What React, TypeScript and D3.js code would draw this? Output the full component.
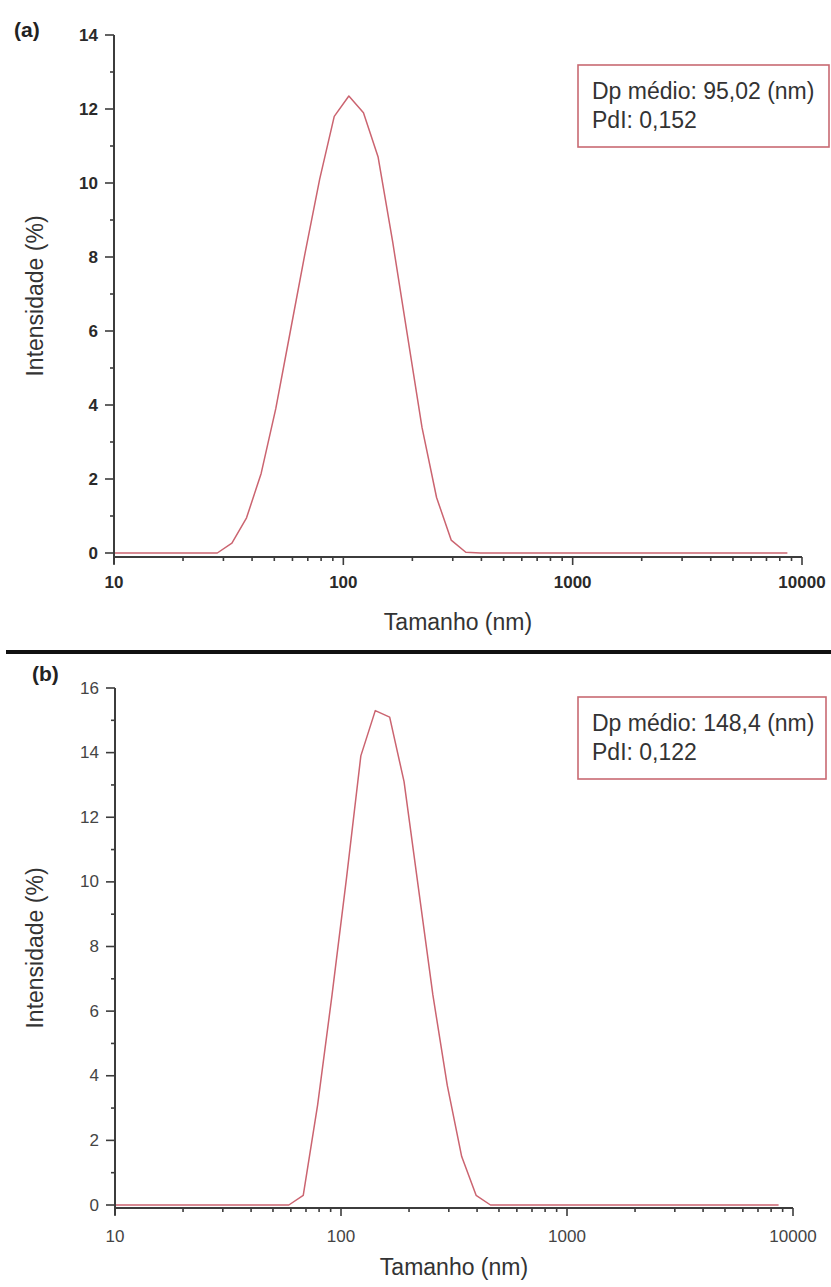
import React from "react";
import * as d3 from "d3";

// Size classes (nm) of the DLS intensity distribution
const sizeBins = [
  10.1, 11.7, 13.54, 15.69, 18.17, 21.04, 24.36, 28.21, 32.67, 37.84, 43.82, 50.75,
  58.77, 68.06, 78.82, 91.28, 105.7, 122.4, 141.8, 164.2, 190.1, 220.2, 255.0, 295.3,
  342.0, 396.1, 458.7, 531.2, 615.1, 712.4, 825.0, 955.4, 1106, 1281, 1484, 1718,
  1990, 2305, 2669, 3091, 3580, 4145, 4801, 5560, 6439, 7456, 8635,
];

// Intensity (%) per size class, sample (a)
const intensityA = [
  0, 0, 0, 0, 0, 0, 0, 0, 0.27, 0.95, 2.15, 3.9,
  6.0, 8.1, 10.1, 11.8, 12.35, 11.9, 10.7, 8.4, 5.9, 3.4, 1.5, 0.35,
  0.02, 0, 0, 0, 0, 0, 0, 0, 0, 0, 0, 0,
  0, 0, 0, 0, 0, 0, 0, 0, 0, 0, 0,
];

// Intensity (%) per size class, sample (b)
const intensityB = [
  0, 0, 0, 0, 0, 0, 0, 0, 0, 0, 0, 0,
  0, 0.3, 3.1, 6.5, 10.1, 13.9, 15.3, 15.1, 13.1, 9.8, 6.5, 3.7,
  1.5, 0.3, 0, 0, 0, 0, 0, 0, 0, 0, 0, 0,
  0, 0, 0, 0, 0, 0, 0, 0, 0, 0, 0,
];

const xTickLabels = ["10", "100", "1000", "10000"];
const legendA = ["Dp médio: 95,02 (nm)", "PdI: 0,152"];
const legendB = ["Dp médio: 148,4 (nm)", "PdI: 0,122"];

const AXIS = "#3c3c3c";
const CURVE = "#cb6470";
const FONT = "Arial, 'Liberation Sans', sans-serif";

type PanelProps = {
  tag: string;
  values: number[];
  yMax: number;
  x0: number;
  x1: number;
  yTop: number;
  yBottom: number;
  yZero: number;
  boldTicks: boolean;
  legend: string[];
  box: { x: number; y: number; w: number; h: number };
  tagPos: { x: number; y: number };
  xLabelY: number;
  yTitleX: number;
  xTitleY: number;
};

function Panel(p: PanelProps) {
  const x = d3.scaleLog().domain([10, 10000]).range([p.x0, p.x1]);
  // zero sits a little above the horizontal axis line
  const unit = (p.yZero - p.yTop) / p.yMax;
  const yMin = -(p.yBottom - p.yZero) / unit;
  const y = d3.scaleLinear().domain([yMin, p.yMax]).range([p.yBottom, p.yTop]);

  const pts = sizeBins.map((s, i) => [s, p.values[i]] as [number, number]);
  const line = d3
    .line<[number, number]>()
    .x((d) => x(d[0]))
    .y((d) => y(d[1]));

  const xMinor = x.ticks().filter((t) => Math.abs(Math.log10(t) - Math.round(Math.log10(t))) > 1e-6);
  const yMajor = d3.range(0, p.yMax + 0.001, 2);
  const yMinor = d3.range(1, p.yMax, 2);
  const weight = p.boldTicks ? 700 : 400;
  const tickColor = p.boldTicks ? "#2a2a2a" : "#444";
  const midX = (p.x0 + p.x1) / 2;
  const midY = (p.yTop + p.yBottom) / 2;

  return (
    <g>
      <text x={p.tagPos.x} y={p.tagPos.y} fontFamily={FONT} fontWeight={700} fontSize={21} fill="#222">
        {p.tag}
      </text>

      {/* curve */}
      <path d={line(pts) ?? ""} fill="none" stroke={CURVE} strokeWidth={1.5} strokeLinejoin="round" />

      {/* y axis */}
      <line x1={p.x0} x2={p.x0} y1={p.yTop} y2={p.yBottom + 7} stroke={AXIS} strokeWidth={2} />
      {yMajor.map((v) => (
        <g key={"ym" + v}>
          <line x1={p.x0 - 9} x2={p.x0} y1={y(v)} y2={y(v)} stroke={AXIS} strokeWidth={1.6} />
          <text
            x={p.x0 - 16}
            y={y(v)}
            textAnchor="end"
            dominantBaseline="central"
            fontFamily={FONT}
            fontWeight={weight}
            fontSize={17}
            fill={tickColor}
          >
            {v}
          </text>
        </g>
      ))}
      {yMinor.map((v) => (
        <line key={"yn" + v} x1={p.x0 - 4} x2={p.x0} y1={y(v)} y2={y(v)} stroke={AXIS} strokeWidth={1.6} />
      ))}

      {/* x axis */}
      <line x1={p.x0} x2={p.x1} y1={p.yBottom} y2={p.yBottom} stroke={AXIS} strokeWidth={2} />
      {xTickLabels.map((lab) => {
        const v = +lab;
        return (
          <g key={"xm" + lab}>
            <line x1={x(v)} x2={x(v)} y1={p.yBottom} y2={p.yBottom + 8} stroke={AXIS} strokeWidth={1.6} />
            <text
              x={x(v)}
              y={p.xLabelY}
              textAnchor="middle"
              fontFamily={FONT}
              fontWeight={weight}
              fontSize={17}
              fill={tickColor}
            >
              {lab}
            </text>
          </g>
        );
      })}
      {xMinor.map((v) => (
        <line key={"xn" + v} x1={x(v)} x2={x(v)} y1={p.yBottom} y2={p.yBottom + 4} stroke={AXIS} strokeWidth={1.6} />
      ))}

      {/* axis titles */}
      <text x={midX} y={p.xTitleY} textAnchor="middle" fontFamily={FONT} fontSize={23} fill="#333">
        Tamanho (nm)
      </text>
      <text
        transform={`translate(${p.yTitleX},${midY}) rotate(-90)`}
        textAnchor="middle"
        dominantBaseline="central"
        fontFamily={FONT}
        fontSize={23}
        fill="#333"
      >
        Intensidade (%)
      </text>

      {/* annotation box */}
      <rect x={p.box.x} y={p.box.y} width={p.box.w} height={p.box.h} fill="#fff" stroke="#c86a72" strokeWidth={1.6} />
      {p.legend.map((t, i) => (
        <text key={t} x={p.box.x + 14} y={p.box.y + 34 + i * 29} fontFamily={FONT} fontSize={23} fill="#333">
          {t}
        </text>
      ))}
    </g>
  );
}

export default function App() {
  return (
    <div style={{ position: "absolute", left: 0, top: 0 }}>
      <svg width={831} height={1287} style={{ display: "block", background: "#fff" }}>
        <Panel
          tag="(a)"
          values={intensityA}
          yMax={14}
          x0={114}
          x1={802}
          yTop={35}
          yBottom={557}
          yZero={553}
          boldTicks={true}
          legend={legendA}
          box={{ x: 578, y: 65, w: 251, h: 82 }}
          tagPos={{ x: 14, y: 37 }}
          xLabelY={588}
          yTitleX={35}
          xTitleY={630}
        />
        <line x1={6} x2={831} y1={652} y2={652} stroke="#111" strokeWidth={4} />
        <Panel
          tag="(b)"
          values={intensityB}
          yMax={16}
          x0={115}
          x1={793}
          yTop={688}
          yBottom={1208}
          yZero={1205}
          boldTicks={false}
          legend={legendB}
          box={{ x: 578, y: 697, w: 248, h: 82 }}
          tagPos={{ x: 32, y: 681 }}
          xLabelY={1242}
          yTitleX={35}
          xTitleY={1275}
        />
      </svg>
    </div>
  );
}
